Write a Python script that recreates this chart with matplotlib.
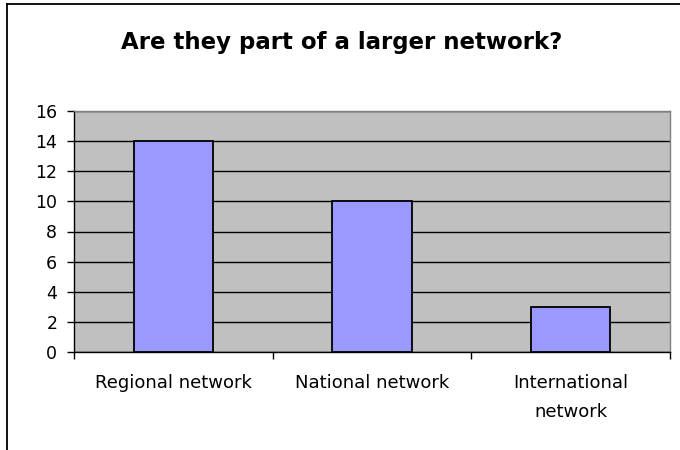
import matplotlib
matplotlib.use("Agg")
import matplotlib.pyplot as plt
from matplotlib.lines import Line2D

plt.rcParams['font.family'] = ['DejaVu Sans']

categories = ["Regional network", "National network", "International\nnetwork"]
counts = [14, 10, 3]
y_ticks = [0, 2, 4, 6, 8, 10, 12, 14, 16]
title = "Are they part of a larger network?"

fig = plt.figure(figsize=(6.8, 4.5), dpi=100)
fig.patch.set_facecolor("white")

# chart frame (left and top edges visible)
fig.add_artist(Line2D([7/680, 7/680], [0, 1 - 4/450], transform=fig.transFigure,
                      color="black", lw=1.3))
fig.add_artist(Line2D([7/680, 1], [1 - 4/450, 1 - 4/450], transform=fig.transFigure,
                      color="black", lw=1.3))

ax = fig.add_axes([74/680, 98/450, 596/680, 241/450])
ax.set_facecolor("#C0C0C0")

x = list(range(len(categories)))
ax.bar(x, counts, width=0.4, color="#9999FF", edgecolor="black", linewidth=1.3, zorder=3)

ax.set_xlim(-0.5, len(categories) - 0.5)
ax.set_ylim(0, 16)
ax.set_yticks(y_ticks)
ax.yaxis.grid(True, color="black", linewidth=1.0, zorder=1)
ax.set_axisbelow(True)

ax.set_xticks(x)
ax.set_xticklabels(categories, fontsize=13, linespacing=1.8)
ax.tick_params(axis="x", length=0, pad=16)
ax.set_xticks([i - 0.5 for i in range(len(categories) + 1)], minor=True)
ax.tick_params(axis="x", which="minor", length=5, width=1, color="black", direction="out")
ax.tick_params(axis="y", length=5, width=1, direction="out", labelsize=12.5, pad=7)

for s in ["left", "bottom"]:
    ax.spines[s].set_color("black")
    ax.spines[s].set_linewidth(1.0)
for s in ["top", "right"]:
    ax.spines[s].set_color("#808080")
    ax.spines[s].set_linewidth(1.0)

fig.text(342/680, 1 - 49/450, title, ha="center", va="baseline",
         fontsize=16.5, fontweight="bold")

fig.savefig("out.png", dpi=100)
